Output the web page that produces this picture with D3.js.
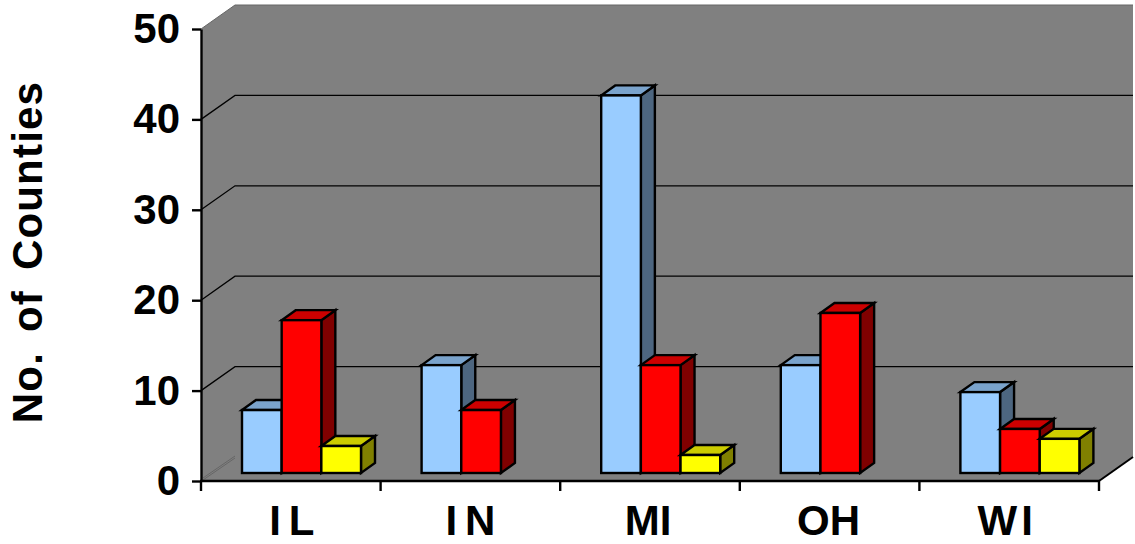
<!DOCTYPE html>
<html>
<head>
<meta charset="utf-8">
<script src="https://cdnjs.cloudflare.com/ajax/libs/d3/7.8.5/d3.min.js"></script>
<style>
html, body { margin: 0; padding: 0; background: #fff; }
svg { display: block; }
text { font-family: "Liberation Sans", Arial, sans-serif; font-weight: bold; fill: #000; }
</style>
</head>
<body>
<script>
var states = ["IL", "IN", "MI", "OH", "WI"];
var seriesA = [7, 12, 42, 12, 9];
var seriesB = [17, 7, 12, 17.8, 4.9];
var seriesC = [3, 0, 2, 0, 3.8];
var yTicks = [0, 10, 20, 30, 40, 50];

var frontColors = ["#99ccff", "#ff0000", "#ffff00"];
var topColors = ["#7aa3cc", "#cc0000", "#cccc00"];
var sideColors = ["#4d6680", "#800000", "#808000"];

var width = 1135,
    height = 544;

// depth of the chart box and of the bars
var boxDx = 34, boxDy = 24;
var barDx = 14, barDy = 10;

var svg = d3.select("body")
    .append("svg")
    .attr("width", width)
    .attr("height", height);

var x = d3.scaleBand().domain(states).range([201, 1099]);
var y = d3.scaleLinear().domain([0, 50]).range([481, 29]);
// bars stand in the middle of the floor, so they get their own baseline
var yBar = d3.scaleLinear().domain([0, 50]).range([473, 23.5]);
var xInner = d3.scaleBand().domain([0, 1, 2]).range([41, 41 + 119]);

function poly(points) {
    return d3.line()(points) + "Z";
}

var x0 = x.range()[0], x1 = x.range()[1];
var yTop = y(50), yBot = y(0);

// walls and floor
var walls = svg.append("g");
walls.append("path")
    .attr("fill", "#808080")
    .attr("d", poly([[x0, yBot], [x0, yTop], [x0 + boxDx, yTop - boxDy], [x1 + boxDx, yTop - boxDy],
        [x1 + boxDx, yBot - boxDy], [x1, yBot]]));
walls.append("path")
    .attr("fill", "none")
    .attr("stroke", "#666")
    .attr("stroke-width", 1)
    .attr("d", d3.line()([[x0, yTop], [x0 + boxDx, yTop - boxDy], [x1 + boxDx, yTop - boxDy]]));

// grid lines, zero line is only a faint double line
var grid = svg.append("g");
grid.selectAll("path")
    .data(yTicks.filter(function(d) { return d > 0 && d < 50; }))
    .enter()
    .append("path")
    .attr("fill", "none")
    .attr("stroke", "#000")
    .attr("stroke-width", 1.3)
    .attr("d", function(d) {
        return d3.line()([[x0, y(d)], [x0 + boxDx, y(d) - boxDy], [x1 + boxDx, y(d) - boxDy]]);
    });
[-1, 1].forEach(function(o) {
    grid.append("path")
        .attr("stroke", "#5a5a5a")
        .attr("stroke-width", 0.7)
        .attr("d", d3.line()([[x0 + 2, yBot - 2 + o], [x0 + boxDx, yBot - boxDy + o]]));
});

// floor edge at the right
svg.append("path")
    .attr("stroke", "#000")
    .attr("stroke-width", 2)
    .attr("d", d3.line()([[x1, yBot], [x1 + boxDx, yBot - boxDy]]));

// bars
var allSeries = [seriesA, seriesB, seriesC];
var bars = [];
states.forEach(function(s, i) {
    allSeries.forEach(function(vals, k) {
        if (vals[i] > 0) bars.push({ state: s, k: k, value: vals[i] });
    });
});

var barG = svg.append("g")
    .attr("stroke", "#000")
    .attr("stroke-width", 2.4)
    .attr("stroke-linejoin", "miter")
    .selectAll("g")
    .data(bars)
    .enter()
    .append("g");

function left(d) { return x(d.state) + xInner(d.k); }
function right(d) { return left(d) + xInner.bandwidth(); }

barG.append("path")
    .attr("fill", function(d) { return sideColors[d.k]; })
    .attr("d", function(d) {
        var r = right(d), t = yBar(d.value), b = yBar(0);
        return poly([[r, b], [r, t], [r + barDx, t - barDy], [r + barDx, b - barDy]]);
    });
barG.append("path")
    .attr("fill", function(d) { return topColors[d.k]; })
    .attr("d", function(d) {
        var l = left(d), r = right(d), t = yBar(d.value);
        return poly([[l, t], [l + barDx, t - barDy], [r + barDx, t - barDy], [r, t]]);
    });
barG.append("rect")
    .attr("fill", function(d) { return frontColors[d.k]; })
    .attr("x", left)
    .attr("y", function(d) { return yBar(d.value); })
    .attr("width", xInner.bandwidth())
    .attr("height", function(d) { return yBar(0) - yBar(d.value); });

// axes
var yAxis = d3.axisLeft(y).tickValues(yTicks).tickSize(9).tickPadding(12).tickSizeOuter(0);
var gy = svg.append("g").attr("transform", "translate(" + x0 + ",0)").call(yAxis);
gy.attr("font-family", null).attr("font-size", null);
gy.selectAll("path, line").attr("stroke", "#000").attr("stroke-width", 2.4);
gy.selectAll("text")
    .style("font-size", "42px")
    .attr("dy", "0.32em");

var xTickPos = states.map(function(s) { return x(s); }).concat([x1]);
svg.append("g")
    .attr("stroke", "#000")
    .attr("stroke-width", 2.4)
    .selectAll("line")
    .data(xTickPos)
    .enter()
    .append("line")
    .attr("x1", function(d) { return d; })
    .attr("x2", function(d) { return d; })
    .attr("y1", yBot)
    .attr("y2", yBot + 10);
svg.append("line")
    .attr("x1", x0 - 1).attr("x2", x1 + 1)
    .attr("y1", yBot).attr("y2", yBot)
    .attr("stroke", "#000").attr("stroke-width", 2.4);

// the reference opens up the narrow I in its labels
function labelSpacing(d) {
    if (d === "IL" || d === "IN") return 8;
    if (d === "WI") return 4;
    return 0;
}
function labelShift(d) {
    if (d === "IL") return 1;
    if (d === "MI") return -2;
    if (d === "OH") return -1;
    if (d === "WI") return -4;
    return 0;
}

svg.append("g")
    .selectAll("text")
    .data(states)
    .enter()
    .append("text")
    .attr("x", function(d) { return x(d) + x.bandwidth() / 2 + labelSpacing(d) / 2 + labelShift(d); })
    .attr("y", 535)
    .attr("text-anchor", "middle")
    .style("font-size", "42px")
    .style("letter-spacing", function(d) { return labelSpacing(d) + "px"; })
    .text(function(d) { return d; });

svg.append("text")
    .attr("transform", "translate(42,252) rotate(-90)")
    .attr("text-anchor", "middle")
    .style("font-size", "42px")
    .style("letter-spacing", "1.2px")
    .style("word-spacing", "7px")
    .text("No. of Counties");
</script>
</body>
</html>
